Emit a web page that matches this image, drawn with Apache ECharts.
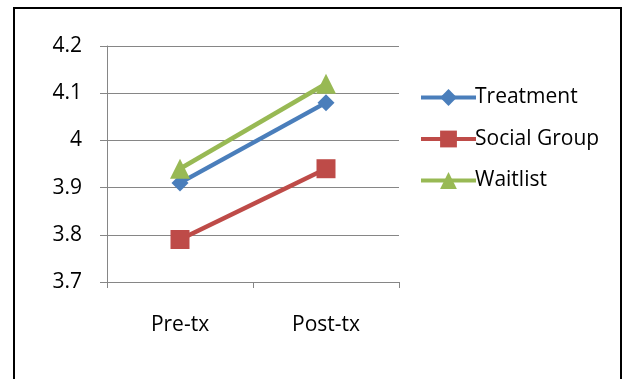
<!DOCTYPE html>
<html>
<head>
<meta charset="utf-8">
<script src="https://cdn.jsdelivr.net/npm/echarts@6/dist/echarts.min.js"></script>
<style>
  html, body { margin: 0; padding: 0; background: #fff; }
  #chart { width: 627px; height: 379px; }
</style>
</head>
<body>
<div id="chart"></div>
<script>
// Mean scores at two time points for each group
const categories = ['Pre-tx', 'Post-tx'];
const treatment = [3.91, 4.08];
const socialGroup = [3.79, 3.94];
const waitlist = [3.94, 4.12];
const yTicks = [3.7, 3.8, 3.9, 4.0, 4.1, 4.2];

const FONT = 'Open Sans';
const FS = 21;
const chart = echarts.init(document.getElementById('chart'), null, { renderer: 'canvas' });

function lineSeries(name, data, color, symbol, size) {
  return {
    name: name,
    type: 'line',
    data: data,
    symbol: symbol,
    symbolSize: size,
    lineStyle: { color: color, width: 4.5 },
    itemStyle: { color: color },
    emphasis: { disabled: true },
    animation: false
  };
}

chart.setOption({
  animation: false,
  textStyle: { fontFamily: FONT },
  graphic: [{
    type: 'rect',
    shape: { x: 14, y: 8, width: 607, height: 400 },
    style: { fill: 'none', stroke: '#000', lineWidth: 2 },
    silent: true
  }],
  grid: { left: 107, right: 228, top: 46, bottom: 97 },
  legend: {
    orient: 'vertical',
    left: 414,
    top: 82,
    itemWidth: 55,
    itemHeight: 21,
    itemGap: 20.5,
    lineStyle: { width: 4 },
    textStyle: { fontFamily: FONT, fontSize: FS, color: '#000', padding: [0, 0, 0, -6] },
    data: ['Treatment', 'Social Group', 'Waitlist']
  },
  xAxis: {
    type: 'category',
    data: categories,
    boundaryGap: true,
    axisLine: { lineStyle: { color: '#868686', width: 1 } },
    axisTick: { show: true, length: 6, lineStyle: { color: '#868686' } },
    axisLabel: { fontFamily: FONT, fontSize: FS, color: '#000', margin: 33 }
  },
  yAxis: {
    type: 'value',
    min: yTicks[0],
    max: yTicks[yTicks.length - 1],
    interval: 0.1,
    axisLine: { show: true, lineStyle: { color: '#868686', width: 1 } },
    axisTick: { show: true, length: 7, lineStyle: { color: '#868686' } },
    splitLine: { lineStyle: { color: '#868686', width: 1 } },
    axisLabel: {
      fontFamily: FONT, fontSize: FS, color: '#000', margin: 25,
      formatter: v => String(Math.round(v * 10) / 10)
    }
  },
  series: [
    lineSeries('Treatment', treatment, '#4A7EBB', 'diamond', 17),
    lineSeries('Social Group', socialGroup, '#BE4B48', 'rect', 19),
    lineSeries('Waitlist', waitlist, '#98B954', 'triangle', 20)
  ]
});
</script>
</body>
</html>
